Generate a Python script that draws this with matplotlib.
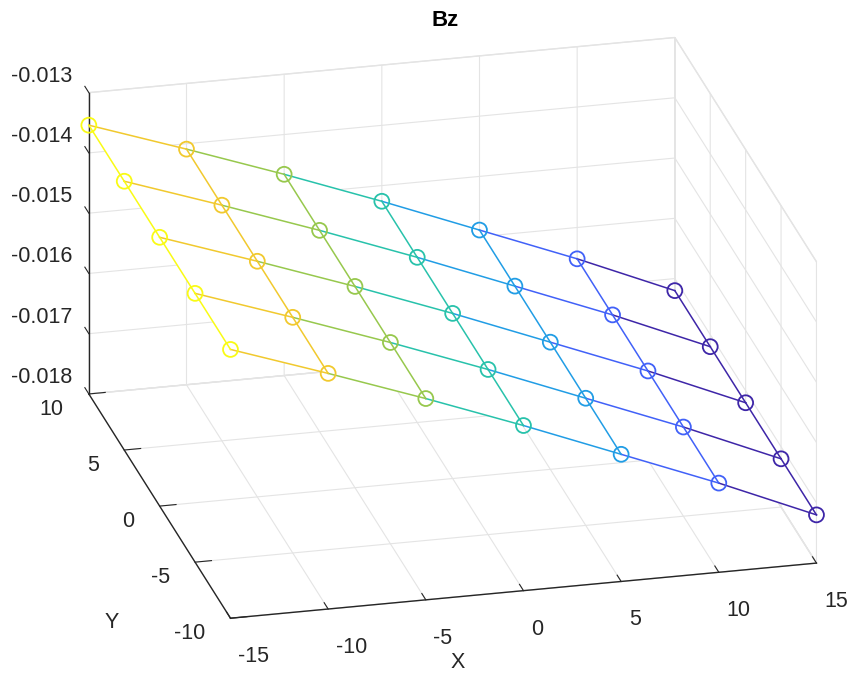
import matplotlib
matplotlib.use("Agg")
import matplotlib.pyplot as plt
import numpy as np
from matplotlib.colors import LinearSegmentedColormap, Normalize
from matplotlib.ticker import FormatStrFormatter

# grid of the mesh
X_VALUES = [-15, -10, -5, 0, 5, 10, 15]
Y_VALUES = [-10, -5, 0, 5, 10]

# Bz, one row per Y value (y = -10 ... 10)
BZ = [
    [-0.01354, -0.01409, -0.01466, -0.01526, -0.01589, -0.01652, -0.01720],
    [-0.01354, -0.01409, -0.01466, -0.01526, -0.01589, -0.01652, -0.01720],
    [-0.01354, -0.01409, -0.01466, -0.01526, -0.01589, -0.01652, -0.01720],
    [-0.01354, -0.01409, -0.01466, -0.01526, -0.01589, -0.01652, -0.01720],
    [-0.01354, -0.01409, -0.01466, -0.01526, -0.01589, -0.01652, -0.01720],
]

X_TICKS = [-15, -10, -5, 0, 5, 10, 15]
Y_TICKS = [-10, -5, 0, 5, 10]
Z_TICKS = [-0.018, -0.017, -0.016, -0.015, -0.014, -0.013]

# MATLAB parula(10)
PARULA = [
    (0.2422, 0.1504, 0.6603),
    (0.2803, 0.2782, 0.9221),
    (0.2440, 0.4358, 0.9988),
    (0.1540, 0.5902, 0.9218),
    (0.0297, 0.7082, 0.8163),
    (0.1938, 0.7758, 0.6251),
    (0.5044, 0.7993, 0.3480),
    (0.8634, 0.7406, 0.1596),
    (0.9892, 0.8137, 0.1885),
    (0.9769, 0.9839, 0.0805),
]

AX_COLOR = "#262626"
GRID_COLOR = "#e4e4e4"

plt.rcParams.update(
    {
        "font.family": ["Liberation Sans", "DejaVu Sans"],
        "font.size": 15.5,
        "axes.unicode_minus": False,
    }
)

cmap = LinearSegmentedColormap.from_list("parula", PARULA)

xx, yy = np.meshgrid(X_VALUES, Y_VALUES)
zz = np.array(BZ)
norm = Normalize(zz.min(), zz.max())

fig = plt.figure(figsize=(8.59, 6.77), dpi=100)
ax = fig.add_axes([0.0163, 0.0022, 1, 1], projection="3d", proj_type="ortho",
                  computed_zorder=False)
ax.view_init(elev=22.7, azim=-103.7)
ax.set_box_aspect((602, 597, 326), zoom=1.305)

# white faces hide the grid behind the mesh, like MATLAB's mesh
ax.plot_surface(xx, yy, zz, color="white", shade=False, linewidth=0,
                antialiased=False, zorder=1, clip_on=False)

lw = 1.1
for i in range(len(Y_VALUES)):
    for j in range(len(X_VALUES) - 1):
        ax.plot([xx[i, j], xx[i, j + 1]], [yy[i, j], yy[i, j + 1]],
                [zz[i, j], zz[i, j + 1]], color=cmap(norm(zz[i, j + 1])),
                lw=lw, zorder=2, clip_on=False)
for j in range(len(X_VALUES)):
    for i in range(len(Y_VALUES) - 1):
        ax.plot([xx[i, j], xx[i + 1, j]], [yy[i, j], yy[i + 1, j]],
                [zz[i, j], zz[i + 1, j]], color=cmap(norm(zz[i, j])),
                lw=lw, zorder=2, clip_on=False)

ax.scatter(xx.ravel(), yy.ravel(), zz.ravel(), s=115, facecolors="none",
           edgecolors=cmap(norm(zz.ravel())), linewidths=1.3,
           depthshade=False, zorder=3, clip_on=False)

ax.set_xlim(-15, 15)
ax.set_ylim(-10, 10)
ax.set_zlim(-0.018, -0.013)
ax.set_xticks(X_TICKS)
ax.set_yticks(Y_TICKS)
ax.set_zticks(Z_TICKS)
ax.zaxis.set_major_formatter(FormatStrFormatter("%g"))

# z tick marks point along y, as in MATLAB
info = {k: dict(v) for k, v in ax.zaxis._AXINFO.items()}
info["z"]["tickdir"] = 1
ax.zaxis._AXINFO = info

for axis in (ax.xaxis, ax.yaxis, ax.zaxis):
    axis.set_pane_color((1, 1, 1, 1))
    axis.pane.set_edgecolor(GRID_COLOR)
    axis._axinfo["grid"].update(color=GRID_COLOR, linewidth=0.8)
    axis._axinfo["tick"].update(inward_factor=0.0, outward_factor=0.35)
    axis._axinfo["axisline"]["color"] = AX_COLOR
    axis.line.set_color(AX_COLOR)
    axis.line.set_linewidth(1.0)
ax.tick_params(colors=AX_COLOR, labelcolor=AX_COLOR)
ax.xaxis.set_tick_params(pad=5.5)
ax.yaxis.set_tick_params(pad=3.0)
ax.zaxis.set_tick_params(pad=8.5)

for t in ax.xaxis.get_ticklabels():
    t.set_horizontalalignment("left")
for t in ax.yaxis.get_ticklabels():
    t.set_horizontalalignment("right")
    t.set_verticalalignment("center")
for t in ax.zaxis.get_ticklabels():
    t.set_verticalalignment("baseline")

# axis labels sit where MATLAB puts them
fig.text(458 / 859, 1 - 662 / 677, "X", ha="center", va="center",
         color=AX_COLOR)
fig.text(112 / 859, 1 - 622 / 677, "Y", ha="center", va="center",
         color=AX_COLOR)
fig.suptitle("Bz", x=0.518, y=0.985, fontweight="bold", fontsize=16,
             color="black")

fig.savefig("out.png", dpi=100)
